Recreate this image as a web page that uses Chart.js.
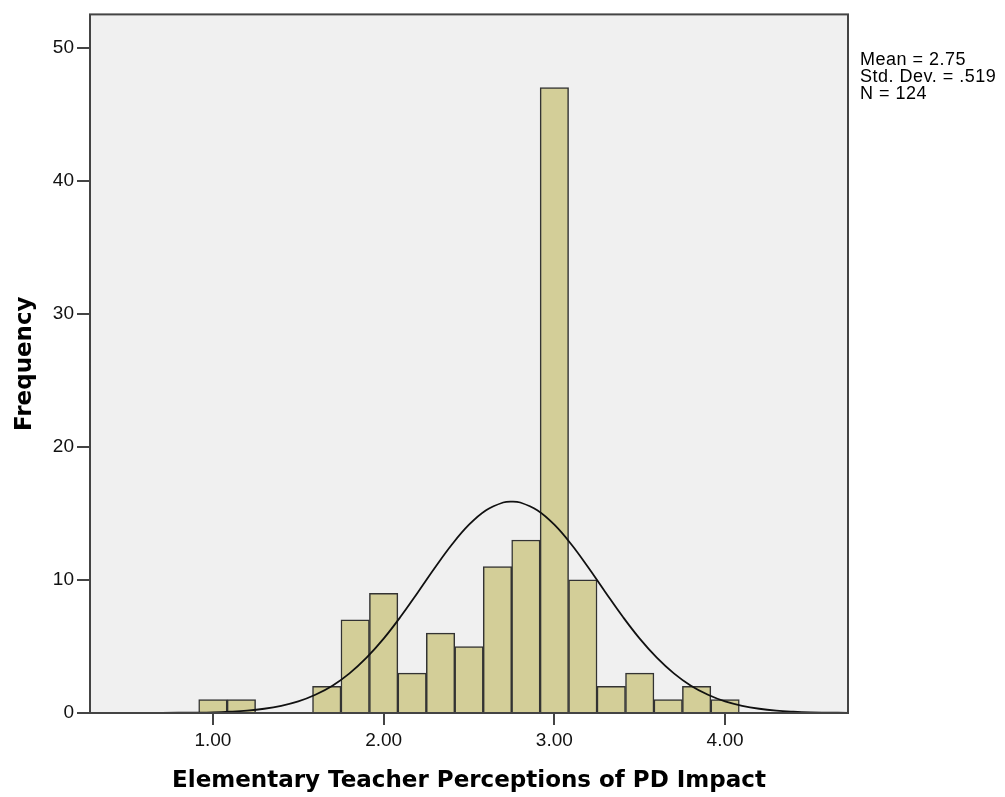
<!DOCTYPE html>
<html>
<head>
<meta charset="utf-8">
<script src="https://cdn.jsdelivr.net/npm/chart.js@4/dist/chart.umd.min.js"></script>
<style>
  html, body { margin: 0; padding: 0; background: #ffffff; }
  #wrap { width: 1005px; height: 797px; position: relative; }
</style>
</head>
<body>
<div id="wrap"><canvas id="hist"></canvas></div>
<script>
// Histogram bins (centres, width 1/6) and counts
const binCenters = [1.0, 1.1667, 1.6667, 1.8333, 2.0, 2.1667, 2.3333, 2.5, 2.6667, 2.8333, 3.0, 3.1667, 3.3333, 3.5, 3.6667, 3.8333, 4.0];
const frequencies = [1, 1, 2, 7, 9, 3, 6, 5, 11, 13, 47, 10, 2, 3, 1, 2, 1];

// Normal curve overlay
const curveX = [0.28, 0.5, 0.7, 0.9, 1.0, 1.1, 1.2, 1.3, 1.4, 1.5, 1.6, 1.7, 1.8, 1.9, 2.0, 2.1, 2.2, 2.3, 2.4, 2.5, 2.6, 2.7, 2.75, 2.8, 2.9, 3.0, 3.1, 3.2, 3.3, 3.4, 3.5, 3.6, 3.7, 3.8, 3.9, 4.0, 4.1, 4.2, 4.3, 4.4, 4.5, 4.6, 4.72];
const curveY = [0, 0, 0.01, 0.03, 0.05, 0.10, 0.18, 0.32, 0.54, 0.87, 1.37, 2.05, 2.98, 4.16, 5.59, 7.25, 9.06, 10.91, 12.66, 14.15, 15.24, 15.82, 15.89, 15.82, 15.24, 14.15, 12.66, 10.91, 9.06, 7.25, 5.59, 4.16, 2.98, 2.05, 1.37, 0.87, 0.54, 0.32, 0.18, 0.10, 0.05, 0.03, 0.01];

const xTicks = [1, 2, 3, 4];
const yTicks = [0, 10, 20, 30, 40, 50];

const statsLines = ['Mean = 2.75', 'Std. Dev. = .519', 'N = 124'];
const xTitle = 'Elementary Teacher Perceptions of PD Impact';
const yTitle = 'Frequency';

// plot background + frame + titles + stats box
const frameStuff = {
    id: 'frameStuff',
    beforeDraw(chart) {
        const { ctx, chartArea: a } = chart;
        ctx.save();
        ctx.fillStyle = '#ffffff';
        ctx.fillRect(0, 0, chart.width, chart.height);
        ctx.fillStyle = '#f0f0f0';
        ctx.fillRect(a.left, a.top, a.right - a.left, a.bottom - a.top);
        ctx.restore();
    },
    afterDraw(chart) {
        const { ctx, chartArea: a } = chart;
        ctx.save();
        ctx.strokeStyle = '#444444';
        ctx.lineWidth = 2;
        ctx.strokeRect(a.left, a.top, a.right - a.left, a.bottom - a.top);

        ctx.fillStyle = '#000000';
        ctx.font = 'bold 23px "DejaVu Sans"';
        ctx.textAlign = 'center';
        ctx.textBaseline = 'middle';
        ctx.fillText(xTitle, (a.left + a.right) / 2, 781);

        ctx.translate(25, (a.top + a.bottom) / 2);
        ctx.rotate(-Math.PI / 2);
        ctx.fillText(yTitle, 0, 0);
        ctx.restore();

        ctx.save();
        ctx.fillStyle = '#000000';
        ctx.font = '18px "Liberation Sans", Arial, sans-serif';
        ctx.letterSpacing = '0.5px';
        ctx.textAlign = 'left';
        ctx.textBaseline = 'top';
        statsLines.forEach((t, i) => ctx.fillText(t, 860, 51 + i * 17));
        ctx.restore();
    }
};

const ctx = document.getElementById('hist').getContext('2d');
new Chart(ctx, {
    data: {
        datasets: [
            {
                type: 'line',
                data: curveX.map((x, i) => ({ x: x, y: curveY[i] })),
                borderColor: '#111111',
                borderWidth: 1.8,
                pointRadius: 0,
                tension: 0.4,
                fill: false,
                order: 0
            },
            {
                type: 'bar',
                data: binCenters.map((x, i) => ({ x: x, y: frequencies[i] })),
                backgroundColor: '#d3ce98',
                borderColor: '#333333',
                borderWidth: 1.5,
                borderSkipped: 'start',
                barPercentage: 1,
                categoryPercentage: 1,
                order: 1
            }
        ]
    },
    options: {
        responsive: true,
        maintainAspectRatio: false,
        animation: false,
        layout: { padding: { left: 0, right: 157, top: 11, bottom: 0 } },
        plugins: {
            legend: { display: false },
            tooltip: { enabled: false }
        },
        scales: {
            x: {
                type: 'linear',
                min: 0.28,
                max: 4.72,
                offset: false,
                grid: { offset: false, drawOnChartArea: false, drawTicks: true, tickLength: 12, color: '#444444', lineWidth: 2 },
                border: { display: false },
                afterBuildTicks: (scale) => { scale.ticks = xTicks.map(v => ({ value: v })); },
                afterFit: (scale) => { scale.height = 84; },
                ticks: {
                    color: '#111111',
                    padding: 4,
                    maxRotation: 0,
                    font: { family: '"Liberation Sans", Arial, sans-serif', size: 19 },
                    callback: (v) => Number(v).toFixed(2)
                }
            },
            y: {
                min: 0,
                max: 52.5,
                grid: { drawOnChartArea: false, drawTicks: true, tickLength: 13, color: '#444444', lineWidth: 2 },
                border: { display: false },
                afterBuildTicks: (scale) => { scale.ticks = yTicks.map(v => ({ value: v })); },
                afterFit: (scale) => { scale.width = 90; },
                ticks: {
                    color: '#111111',
                    padding: 3,
                    font: { family: '"Liberation Sans", Arial, sans-serif', size: 19 }
                }
            }
        }
    },
    plugins: [frameStuff]
});
</script>
</body>
</html>
